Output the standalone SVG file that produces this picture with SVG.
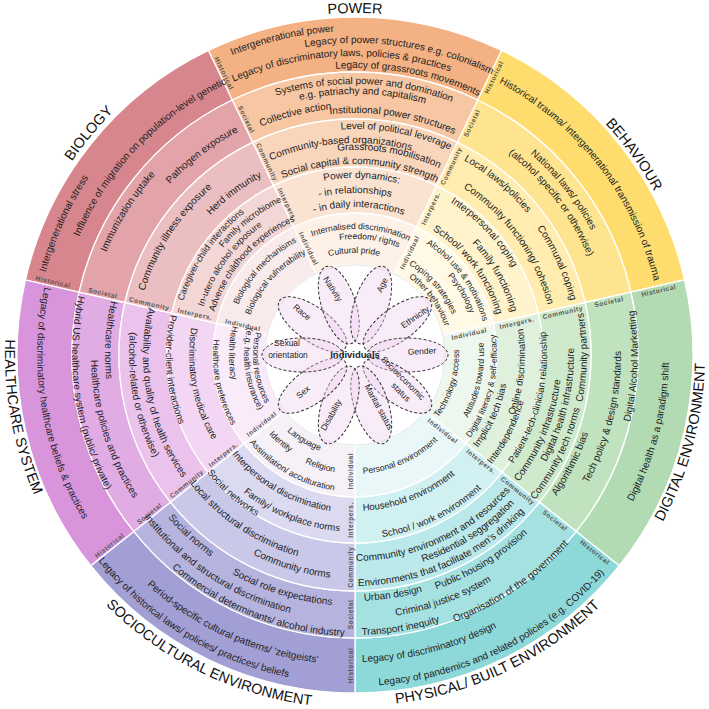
<svg xmlns="http://www.w3.org/2000/svg" xmlns:xlink="http://www.w3.org/1999/xlink" width="709" height="709" viewBox="0 0 709 709">
<style>
text{font-family:"Liberation Sans",Arial,sans-serif;fill:#222;text-anchor:middle}
.t{font-size:10px}
.s{font-size:9.5px}
.s9{font-size:9px}
.i{font-size:8.6px}
.o{font-size:14.5px;fill:#111}
.rl{font-size:6.5px;font-weight:bold;fill:#555;letter-spacing:0.6px}
.p{font-size:8.5px}
.c{font-size:9.5px;font-weight:bold}
.pet{fill:#efcfef;fill-opacity:.4;stroke:#333;stroke-width:1;stroke-dasharray:3 2}
.w{stroke:#fff;stroke-width:1.3}
</style>
<defs>
<path id="w5" class="w" d="M208.35,50.47A338,338 0 0 1 501.65,50.47L477.79,100.03A283,283 0 0 0 232.21,100.03Z"/>
<path id="w4" class="w" d="M232.21,100.03A283,283 0 0 1 477.79,100.03L457.4,142.37A236,236 0 0 0 252.6,142.37Z"/>
<path id="w3" class="w" d="M252.6,142.37A236,236 0 0 1 457.4,142.37L436.57,185.62A188,188 0 0 0 273.43,185.62Z"/>
<path id="w2" class="w" d="M273.43,185.62A188,188 0 0 1 436.57,185.62L416.61,227.06A142,142 0 0 0 293.39,227.06Z"/>
<path id="w1" class="w" d="M293.39,227.06A142,142 0 0 1 416.61,227.06L394.05,273.91A90,90 0 0 0 315.95,273.91Z"/>
<path id="u94" d="M261,355A94,94 0 0 1 449,355"/>
<path id="u102" d="M253,355A102,102 0 0 1 457,355"/>
<path id="u105" d="M250,355A105,105 0 0 1 460,355"/>
<path id="u112" d="M243,355A112,112 0 0 1 467,355"/>
<path id="u116" d="M239,355A116,116 0 0 1 471,355"/>
<path id="u122" d="M233,355A122,122 0 0 1 477,355"/>
<path id="u126" d="M229,355A126,126 0 0 1 481,355"/>
<path id="u127" d="M228,355A127,127 0 0 1 482,355"/>
<path id="u132" d="M223,355A132,132 0 0 1 487,355"/>
<path id="u147" d="M208,355A147,147 0 0 1 502,355"/>
<path id="u148" d="M207,355A148,148 0 0 1 503,355"/>
<path id="u159" d="M196,355A159,159 0 0 1 514,355"/>
<path id="u162" d="M193,355A162,162 0 0 1 517,355"/>
<path id="u170" d="M185,355A170,170 0 0 1 525,355"/>
<path id="u177" d="M178,355A177,177 0 0 1 532,355"/>
<path id="u180" d="M175,355A180,180 0 0 1 535,355"/>
<path id="u191" d="M164,355A191,191 0 0 1 546,355"/>
<path id="u199" d="M156,355A199,199 0 0 1 554,355"/>
<path id="u201" d="M154,355A201,201 0 0 1 556,355"/>
<path id="u205" d="M150,355A205,205 0 0 1 560,355"/>
<path id="u212" d="M143,355A212,212 0 0 1 567,355"/>
<path id="u220" d="M135,355A220,220 0 0 1 575,355"/>
<path id="u222" d="M133,355A222,222 0 0 1 577,355"/>
<path id="u223" d="M132,355A223,223 0 0 1 578,355"/>
<path id="u226" d="M129,355A226,226 0 0 1 581,355"/>
<path id="u242" d="M113,355A242,242 0 0 1 597,355"/>
<path id="u247" d="M108,355A247,247 0 0 1 602,355"/>
<path id="u252" d="M103,355A252,252 0 0 1 607,355"/>
<path id="u253" d="M102,355A253,253 0 0 1 608,355"/>
<path id="u261" d="M94,355A261,261 0 0 1 616,355"/>
<path id="u267" d="M88,355A267,267 0 0 1 622,355"/>
<path id="u269" d="M86,355A269,269 0 0 1 624,355"/>
<path id="u271" d="M84,355A271,271 0 0 1 626,355"/>
<path id="u287" d="M68,355A287,287 0 0 1 642,355"/>
<path id="u299" d="M56,355A299,299 0 0 1 654,355"/>
<path id="u300" d="M55,355A300,300 0 0 1 655,355"/>
<path id="u308" d="M47,355A308,308 0 0 1 663,355"/>
<path id="u312" d="M43,355A312,312 0 0 1 667,355"/>
<path id="u320" d="M35,355A320,320 0 0 1 675,355"/>
<path id="u324" d="M31,355A324,324 0 0 1 679,355"/>
<path id="u341" d="M14,355A341,341 0 0 1 696,355"/>
<path id="u342" d="M13,355A342,342 0 0 1 697,355"/>
<path id="u343" d="M12,355A343,343 0 0 1 698,355"/>
<path id="d102" d="M253,355A102,102 0 0 0 457,355"/>
<path id="d104" d="M251,355A104,104 0 0 0 459,355"/>
<path id="d111" d="M244,355A111,111 0 0 0 466,355"/>
<path id="d117" d="M238,355A117,117 0 0 0 472,355"/>
<path id="d119" d="M236,355A119,119 0 0 0 474,355"/>
<path id="d126" d="M229,355A126,126 0 0 0 481,355"/>
<path id="d129" d="M226,355A129,129 0 0 0 484,355"/>
<path id="d137" d="M218,355A137,137 0 0 0 492,355"/>
<path id="d142" d="M213,355A142,142 0 0 0 497,355"/>
<path id="d152" d="M203,355A152,152 0 0 0 507,355"/>
<path id="d154" d="M201,355A154,154 0 0 0 509,355"/>
<path id="d156" d="M199,355A156,156 0 0 0 511,355"/>
<path id="d158" d="M197,355A158,158 0 0 0 513,355"/>
<path id="d166" d="M189,355A166,166 0 0 0 521,355"/>
<path id="d170" d="M185,355A170,170 0 0 0 525,355"/>
<path id="d175" d="M180,355A175,175 0 0 0 530,355"/>
<path id="d177" d="M178,355A177,177 0 0 0 532,355"/>
<path id="d184" d="M171,355A184,184 0 0 0 539,355"/>
<path id="d189" d="M166,355A189,189 0 0 0 544,355"/>
<path id="d192" d="M163,355A192,192 0 0 0 547,355"/>
<path id="d206" d="M149,355A206,206 0 0 0 561,355"/>
<path id="d207" d="M148,355A207,207 0 0 0 562,355"/>
<path id="d209" d="M146,355A209,209 0 0 0 564,355"/>
<path id="d212" d="M143,355A212,212 0 0 0 567,355"/>
<path id="d218" d="M137,355A218,218 0 0 0 573,355"/>
<path id="d219" d="M136,355A219,219 0 0 0 574,355"/>
<path id="d224" d="M131,355A224,224 0 0 0 579,355"/>
<path id="d226" d="M129,355A226,226 0 0 0 581,355"/>
<path id="d231" d="M124,355A231,231 0 0 0 586,355"/>
<path id="d232" d="M123,355A232,232 0 0 0 587,355"/>
<path id="d246" d="M109,355A246,246 0 0 0 601,355"/>
<path id="d248" d="M107,355A248,248 0 0 0 603,355"/>
<path id="d250" d="M105,355A250,250 0 0 0 605,355"/>
<path id="d251" d="M104,355A251,251 0 0 0 606,355"/>
<path id="d264" d="M91,355A264,264 0 0 0 619,355"/>
<path id="d266" d="M89,355A266,266 0 0 0 621,355"/>
<path id="d280" d="M75,355A280,280 0 0 0 635,355"/>
<path id="d281" d="M74,355A281,281 0 0 0 636,355"/>
<path id="d283" d="M72,355A283,283 0 0 0 638,355"/>
<path id="d285" d="M70,355A285,285 0 0 0 640,355"/>
<path id="d307" d="M48,355A307,307 0 0 0 662,355"/>
<path id="d310" d="M45,355A310,310 0 0 0 665,355"/>
<path id="d314" d="M41,355A314,314 0 0 0 669,355"/>
<path id="d318" d="M37,355A318,318 0 0 0 673,355"/>
<path id="d329" d="M26,355A329,329 0 0 0 684,355"/>
<path id="d331" d="M24,355A331,331 0 0 0 686,355"/>
<path id="d350" d="M5,355A350,350 0 0 0 705,355"/>
<path id="d351" d="M4,355A351,351 0 0 0 706,355"/>
<path id="d353" d="M2,355A353,353 0 0 0 708,355"/>
</defs>
<rect width="709" height="709" fill="#fff"/>

<g id="rings">
<g id="power-rings">
<use href="#w5" fill="#F4B183"/><use href="#w4" fill="#F7C6A2"/><use href="#w3" fill="#F9D5BC"/><use href="#w2" fill="#FBE3D2"/><use href="#w1" fill="#FDF1E8"/>
</g>
<g id="behaviour-rings" transform="rotate(51.43 355 355)">
<use href="#w5" fill="#FFDC6E"/><use href="#w4" fill="#FFE48F"/><use href="#w3" fill="#FFECAE"/><use href="#w2" fill="#FFF3CC"/><use href="#w1" fill="#FFF9E6"/>
</g>
<g id="digital-rings" transform="rotate(102.86 355 355)">
<use href="#w5" fill="#B3DBB3"/><use href="#w4" fill="#C0E2BE"/><use href="#w3" fill="#CFE9CC"/><use href="#w2" fill="#DFF0DD"/><use href="#w1" fill="#EEF7ED"/>
</g>
<g id="physical-rings" transform="rotate(154.29 355 355)">
<use href="#w5" fill="#8DD8D9"/><use href="#w4" fill="#A6E1E2"/><use href="#w3" fill="#BBE8EA"/><use href="#w2" fill="#D1F0F2"/><use href="#w1" fill="#E9F7F8"/>
</g>
<g id="sociocultural-rings" transform="rotate(205.71 355 355)">
<use href="#w5" fill="#A29FD5"/><use href="#w4" fill="#B6B4DF"/><use href="#w3" fill="#C9C8E9"/><use href="#w2" fill="#DBDAF1"/><use href="#w1" fill="#F6F0F7"/>
</g>
<g id="healthcare-rings" transform="rotate(257.14 355 355)">
<use href="#w5" fill="#D895DC"/><use href="#w4" fill="#E1ACE4"/><use href="#w3" fill="#EAC2EC"/><use href="#w2" fill="#F2D6F3"/><use href="#w1" fill="#F9EBF9"/>
</g>
<g id="biology-rings" transform="rotate(308.57 355 355)">
<use href="#w5" fill="#D8868D"/><use href="#w4" fill="#E2A4A9"/><use href="#w3" fill="#EBBFC1"/><use href="#w2" fill="#F3D7D7"/><use href="#w1" fill="#F9EBEB"/>
</g>
<circle cx="355" cy="355" r="90" fill="#fff" stroke="#e6e6e6" stroke-width="1"/>
</g>

<g id="ring-labels">
<g transform="rotate(334.29 355 355)">
<text class="rl" transform="translate(357,44.5) rotate(90)">Historical</text>
<text class="rl" transform="translate(357,95.5) rotate(90)">Societal</text>
<text class="rl" transform="translate(357,143) rotate(90)">Community</text>
<text class="rl" transform="translate(357,190) rotate(90)">Interpers.</text>
<text class="rl" transform="translate(357,239) rotate(90)">Individual</text>
</g>
<g transform="rotate(25.71 355 355)">
<text class="rl" transform="translate(362,44.5) rotate(-90)">Historical</text>
<text class="rl" transform="translate(362,95.5) rotate(-90)">Societal</text>
<text class="rl" transform="translate(362,143) rotate(-90)">Community</text>
<text class="rl" transform="translate(362,190) rotate(-90)">Interpers.</text>
<text class="rl" transform="translate(362,239) rotate(-90)">Individual</text>
</g>
<g transform="rotate(77.14 355 355)">
<text class="rl" transform="translate(362,44.5) rotate(-90)">Historical</text>
<text class="rl" transform="translate(362,95.5) rotate(-90)">Societal</text>
<text class="rl" transform="translate(362,143) rotate(-90)">Community</text>
<text class="rl" transform="translate(362,190) rotate(-90)">Intergers.</text>
<text class="rl" transform="translate(362,239) rotate(-90)">Individual</text>
</g>
<g transform="rotate(128.57 355 355)">
<text class="rl" transform="translate(362,44.5) rotate(-90)">Historical</text>
<text class="rl" transform="translate(362,95.5) rotate(-90)">Societal</text>
<text class="rl" transform="translate(362,143) rotate(-90)">Community</text>
<text class="rl" transform="translate(362,190) rotate(-90)">Interpers.</text>
<text class="rl" transform="translate(362,239) rotate(-90)">Individual</text>
</g>
<g transform="rotate(180 355 355)">
<text class="rl" transform="translate(357,44.5) rotate(90)">Historical</text>
<text class="rl" transform="translate(357,95.5) rotate(90)">Societal</text>
<text class="rl" transform="translate(357,143) rotate(90)">Community</text>
<text class="rl" transform="translate(357,190) rotate(90)">Interpers.</text>
<text class="rl" transform="translate(357,239) rotate(90)">Individual</text>
</g>
<g transform="rotate(231.43 355 355)">
<text class="rl" transform="translate(357,44.5) rotate(90)">Historical</text>
<text class="rl" transform="translate(357,95.5) rotate(90)">Societal</text>
<text class="rl" transform="translate(357,143) rotate(90)">Community</text>
<text class="rl" transform="translate(357,190) rotate(90)">Interpers.</text>
<text class="rl" transform="translate(357,239) rotate(90)">Individual</text>
</g>
<g transform="rotate(282.86 355 355)">
<text class="rl" transform="translate(357,44.5) rotate(90)">Historical</text>
<text class="rl" transform="translate(357,95.5) rotate(90)">Societal</text>
<text class="rl" transform="translate(357,143) rotate(90)">Community</text>
<text class="rl" transform="translate(357,190) rotate(90)">Interpers.</text>
<text class="rl" transform="translate(357,239) rotate(90)">Individual</text>
</g>
</g>

<g id="power">
<text class="o" transform="rotate(0 355 355)"><textPath href="#u342" startOffset="50%">POWER</textPath></text>
<text class="t" transform="rotate(-13 355 355)"><textPath href="#u324" startOffset="50%">Intergenerational power</textPath></text>
<text class="t" transform="rotate(8.4 355 355)"><textPath href="#u312" startOffset="50%">Legacy of power structures e.g. colonialism</textPath></text>
<text class="t" transform="rotate(-2.7 355 355)"><textPath href="#u299" startOffset="50%">Legacy of discriminatory laws, policies &amp; practices</textPath></text>
<text class="t" transform="rotate(10.8 355 355)"><textPath href="#u287" startOffset="50%">Legacy of grassroots movements</textPath></text>
<text class="t" transform="rotate(2 355 355)"><textPath href="#u271" startOffset="50%">Systems of social power and domination</textPath></text>
<text class="t" transform="rotate(1.7 355 355)"><textPath href="#u261" startOffset="50%">e.g. patriachy and capitalism</textPath></text>
<text class="t" transform="rotate(-13.9 355 355)"><textPath href="#u247" startOffset="50%">Collective action</textPath></text>
<text class="t" transform="rotate(9.1 355 355)"><textPath href="#u242" startOffset="50%">Institutional power structures</textPath></text>
<text class="t" transform="rotate(10.6 355 355)"><textPath href="#u226" startOffset="50%">Level of political leverage</textPath></text>
<text class="t" transform="rotate(-4 355 355)"><textPath href="#u212" startOffset="50%">Community-based organizations</textPath></text>
<text class="t" transform="rotate(9.7 355 355)"><textPath href="#u205" startOffset="50%">Grassroots mobilisation</textPath></text>
<text class="t" transform="rotate(1.5 355 355)"><textPath href="#u191" startOffset="50%">Social capital &amp; community strength</textPath></text>
<text class="t" transform="rotate(2.2 355 355)"><textPath href="#u177" startOffset="50%">Power dynamics:</textPath></text>
<text class="t" transform="rotate(0 355 355)"><textPath href="#u162" startOffset="50%">- in relationships</textPath></text>
<text class="t" transform="rotate(1.5 355 355)"><textPath href="#u148" startOffset="50%">- in daily interactions</textPath></text>
<text class="i" transform="rotate(2.7 355 355)"><textPath href="#u126" startOffset="50%">Internalised discrimination</textPath></text>
<text class="i" transform="rotate(7.2 355 355)"><textPath href="#u116" startOffset="50%">Freedom/ rights</textPath></text>
<text class="i" transform="rotate(-0.5 355 355)"><textPath href="#u102" startOffset="50%">Cultural pride</textPath></text>
</g>

<g id="behaviour">
<text class="o" transform="rotate(54.3 355 355)"><textPath href="#u341" startOffset="50%">BEHAVIOUR</textPath></text>
<text class="t" transform="rotate(52 355 355)"><textPath href="#u308" startOffset="50%">Historical trauma/ intergenerational transmission of trauma</textPath></text>
<text class="t" transform="rotate(51.6 355 355)"><textPath href="#u267" startOffset="50%">National laws/ policies</textPath></text>
<text class="t" transform="rotate(52.2 355 355)"><textPath href="#u253" startOffset="50%">(alcohol specific or otherwise)</textPath></text>
<text class="t" transform="rotate(39.8 355 355)"><textPath href="#u223" startOffset="50%">Local laws/policies</textPath></text>
<text class="t" transform="rotate(65.5 355 355)"><textPath href="#u222" startOffset="50%">Communal coping</textPath></text>
<text class="t" transform="rotate(54.2 355 355)"><textPath href="#u199" startOffset="50%">Community functioning/ cohesion</textPath></text>
<text class="t" transform="rotate(46.5 355 355)"><textPath href="#u180" startOffset="50%">Interpersonal coping</textPath></text>
<text class="t" transform="rotate(60.5 355 355)"><textPath href="#u162" startOffset="50%">Family functioning</textPath></text>
<text class="t" transform="rotate(53 355 355)"><textPath href="#u147" startOffset="50%">School/ work functioning</textPath></text>
<text class="i" transform="rotate(54 355 355)"><textPath href="#u132" startOffset="50%">Alcohol use &amp; motivations</textPath></text>
<text class="i" transform="rotate(59.8 355 355)"><textPath href="#u122" startOffset="50%">Psychology</textPath></text>
<text class="i" transform="rotate(49 355 355)"><textPath href="#u105" startOffset="50%">Coping strategies</textPath></text>
<text class="i" transform="rotate(53.6 355 355)"><textPath href="#u94" startOffset="50%">Other behaviour</textPath></text>
</g>

<g id="digital-environment">
<text class="o" transform="rotate(-75.1 355 355)"><textPath href="#d350" startOffset="50%">DIGITAL ENVIRONMENT</textPath></text>
<text class="t" transform="rotate(-75.4 355 355)"><textPath href="#d314" startOffset="50%">Digital health as a paradigm shift</textPath></text>
<text class="t" transform="rotate(-87.7 355 355)"><textPath href="#d283" startOffset="50%">Digital Alcohol Marketting</textPath></text>
<text class="t" transform="rotate(-76 355 355)"><textPath href="#d266" startOffset="50%">Tech policy &amp; design standards</textPath></text>
<text class="t" transform="rotate(-63.2 355 355)"><textPath href="#d246" startOffset="50%">Algorithmic bias</textPath></text>
<text class="t" transform="rotate(-89.4 355 355)"><textPath href="#d232" startOffset="50%">Community partners</textPath></text>
<text class="t" transform="rotate(-63.9 355 355)"><textPath href="#d231" startOffset="50%">Community tech norms</textPath></text>
<text class="t" transform="rotate(-76.3 355 355)"><textPath href="#d219" startOffset="50%">Digital health infrastructure</textPath></text>
<text class="t" transform="rotate(-67.7 355 355)"><textPath href="#d207" startOffset="50%">Community infrastructure</textPath></text>
<text class="s" transform="rotate(-76.3 355 355)"><textPath href="#d192" startOffset="50%">Patient-tech-clinician relationship</textPath></text>
<text class="s" transform="rotate(-63 355 355)"><textPath href="#d175" startOffset="50%">Interdependence</textPath></text>
<text class="s" transform="rotate(-84.1 355 355)"><textPath href="#d170" startOffset="50%">Online discrimination</textPath></text>
<text class="s" transform="rotate(-66 355 355)"><textPath href="#d154" startOffset="50%">Implicit tech bias</textPath></text>
<text class="i" transform="rotate(-76.3 355 355)"><textPath href="#d142" startOffset="50%">Digital literacy &amp; self-efficacy</textPath></text>
<text class="i" transform="rotate(-78.2 355 355)"><textPath href="#d129" startOffset="50%">Attitudes toward use</textPath></text>
<text class="i" transform="rotate(-73 355 355)"><textPath href="#d104" startOffset="50%">Technology access</textPath></text>
</g>

<g id="physical-built-environment">
<text class="o" transform="rotate(-25.5 355 355)"><textPath href="#d351" startOffset="50%">PHYSICAL/ BUILT ENVIRONMENT</textPath></text>
<text class="t" transform="rotate(-26.5 355 355)"><textPath href="#d331" startOffset="50%">Legacy of pandemics and related policies (e.g. COVID-19)</textPath></text>
<text class="t" transform="rotate(-14.4 355 355)"><textPath href="#d307" startOffset="50%">Legacy of discriminatory design</textPath></text>
<text class="t" transform="rotate(-34.5 355 355)"><textPath href="#d285" startOffset="50%">Organisation of the government</textPath></text>
<text class="t" transform="rotate(-9.5 355 355)"><textPath href="#d280" startOffset="50%">Transport inequity</textPath></text>
<text class="t" transform="rotate(-20 355 355)"><textPath href="#d264" startOffset="50%">Criminal justice system</textPath></text>
<text class="t" transform="rotate(-31.6 355 355)"><textPath href="#d248" startOffset="50%">Public housing provision</textPath></text>
<text class="t" transform="rotate(-9 355 355)"><textPath href="#d246" startOffset="50%">Urban design</textPath></text>
<text class="t" transform="rotate(-24 355 355)"><textPath href="#d231" startOffset="50%">Environments that facilitate men’s drinking</textPath></text>
<text class="t" transform="rotate(-32.6 355 355)"><textPath href="#d218" startOffset="50%">Residential seggregation</textPath></text>
<text class="t" transform="rotate(-24.6 355 355)"><textPath href="#d206" startOffset="50%">Community environment and resources</textPath></text>
<text class="s" transform="rotate(-26 355 355)"><textPath href="#d184" startOffset="50%">School / work environment</textPath></text>
<text class="s" transform="rotate(-21.4 355 355)"><textPath href="#d156" startOffset="50%">Household environment</textPath></text>
<text class="i" transform="rotate(-24 355 355)"><textPath href="#d119" startOffset="50%">Personal environment</textPath></text>
</g>

<g id="sociocultural-environment">
<text class="o" transform="rotate(26 355 355)"><textPath href="#d353" startOffset="50%">SOCIOCULTURAL ENVIRONMENT</textPath></text>
<text class="t" transform="rotate(31.5 355 355)"><textPath href="#d329" startOffset="50%">Legacy of historical laws/ policies/ practices/ beliefs</textPath></text>
<text class="t" transform="rotate(24.5 355 355)"><textPath href="#d310" startOffset="50%">Period-specific cultural patterns/ 'zeitgeists'</textPath></text>
<text class="t" transform="rotate(21.4 355 355)"><textPath href="#d281" startOffset="50%">Commercial determinants/ alcohol industry</textPath></text>
<text class="t" transform="rotate(33.3 355 355)"><textPath href="#d266" startOffset="50%">Institutional and structural discrimination</textPath></text>
<text class="t" transform="rotate(17.3 355 355)"><textPath href="#d251" startOffset="50%">Social role expectations</textPath></text>
<text class="t" transform="rotate(42.3 355 355)"><textPath href="#d248" startOffset="50%">Social norms</textPath></text>
<text class="t" transform="rotate(16.7 355 355)"><textPath href="#d224" startOffset="50%">Community norms</textPath></text>
<text class="t" transform="rotate(34 355 355)"><textPath href="#d209" startOffset="50%">Local structural discrimination</textPath></text>
<text class="s" transform="rotate(41.5 355 355)"><textPath href="#d189" startOffset="50%">Social networks</textPath></text>
<text class="s" transform="rotate(22 355 355)"><textPath href="#d177" startOffset="50%">Family/ workplace norms</textPath></text>
<text class="s" transform="rotate(30 355 355)"><textPath href="#d158" startOffset="50%">Interpersonal discrimination</textPath></text>
<text class="i" transform="rotate(29.5 355 355)"><textPath href="#d137" startOffset="50%">Assimilation/ acculturation</textPath></text>
<text class="i" transform="rotate(40.6 355 355)"><textPath href="#d117" startOffset="50%">Identity</textPath></text>
<text class="i" transform="rotate(17.4 355 355)"><textPath href="#d119" startOffset="50%">Religion</textPath></text>
<text class="i" transform="rotate(31 355 355)"><textPath href="#d102" startOffset="50%">Language</textPath></text>
</g>

<g id="healthcare-system">
<text class="o" transform="rotate(79.5 355 355)"><textPath href="#d350" startOffset="50%">HEALTHCARE SYSTEM</textPath></text>
<text class="t" transform="rotate(80.6 355 355)"><textPath href="#d318" startOffset="50%">Legacy of discriminatory healthcare beliefs &amp; practices</textPath></text>
<text class="t" transform="rotate(81.8 355 355)"><textPath href="#d283" startOffset="50%">Hybrid US healthcare system (public/ private)</textPath></text>
<text class="t" transform="rotate(73 355 355)"><textPath href="#d264" startOffset="50%">Healthcare  policies and practices</textPath></text>
<text class="t" transform="rotate(93.5 355 355)"><textPath href="#d250" startOffset="50%">Healthcare norms</textPath></text>
<text class="t" transform="rotate(79.4 355 355)"><textPath href="#d226" startOffset="50%">(alcohol-related or otherwise)</textPath></text>
<text class="t" transform="rotate(78.8 355 355)"><textPath href="#d212" startOffset="50%">Availability and quality of health services</textPath></text>
<text class="s" transform="rotate(85.4 355 355)"><textPath href="#d189" startOffset="50%">Provider-client interactions</textPath></text>
<text class="s" transform="rotate(79.4 355 355)"><textPath href="#d166" startOffset="50%">Discriminatory medical care</textPath></text>
<text class="i" transform="rotate(78.3 355 355)"><textPath href="#d142" startOffset="50%">Healthcare preferences</textPath></text>
<text class="i" transform="rotate(91 355 355)"><textPath href="#d126" startOffset="50%">Health literacy</textPath></text>
<text class="i" transform="rotate(82.2 355 355)"><textPath href="#d111" startOffset="50%">(e.g. health insurance)</textPath></text>
<text class="i" transform="rotate(82.4 355 355)"><textPath href="#d102" startOffset="50%">Personal resources</textPath></text>
</g>

<g id="biology">
<text class="o" transform="rotate(-50.2 355 355)"><textPath href="#u343" startOffset="50%">BIOLOGY</textPath></text>
<text class="t" transform="rotate(-65.7 355 355)"><textPath href="#u320" startOffset="50%">Intergenerational stress</textPath></text>
<text class="t" transform="rotate(-46 355 355)"><textPath href="#u300" startOffset="50%">Influence of migration on population-level genetic</textPath></text>
<text class="t" transform="rotate(-57.7 355 355)"><textPath href="#u269" startOffset="50%">Immunization uptake</textPath></text>
<text class="t" transform="rotate(-37.4 355 355)"><textPath href="#u252" startOffset="50%">Pathogen exposure</textPath></text>
<text class="t" transform="rotate(-56.8 355 355)"><textPath href="#u220" startOffset="50%">Community illness exposure</textPath></text>
<text class="t" transform="rotate(-36.8 355 355)"><textPath href="#u201" startOffset="50%">Herd immunity</textPath></text>
<text class="s9" transform="rotate(-55.2 355 355)"><textPath href="#u180" startOffset="50%">Caregiver-child interactions</textPath></text>
<text class="s9" transform="rotate(-38.2 355 355)"><textPath href="#u170" startOffset="50%">Family microbiome</textPath></text>
<text class="s9" transform="rotate(-54 355 355)"><textPath href="#u159" startOffset="50%">In-utero alcohol exposure</textPath></text>
<text class="s9" transform="rotate(-48.5 355 355)"><textPath href="#u147" startOffset="50%">Adverse childhood experiences</textPath></text>
<text class="i" transform="rotate(-47 355 355)"><textPath href="#u127" startOffset="50%">Biological mechanisms</textPath></text>
<text class="i" transform="rotate(-47.5 355 355)"><textPath href="#u112" startOffset="50%">Biological vulnerability</textPath></text>
</g>

<g id="individuals">
<ellipse class="pet" cx="355" cy="302.5" rx="17" ry="40.5" transform="rotate(306 355 355)"/>
<ellipse class="pet" cx="355" cy="302.5" rx="17" ry="40.5" transform="rotate(342 355 355)"/>
<ellipse class="pet" cx="355" cy="302.5" rx="17" ry="40.5" transform="rotate(18 355 355)"/>
<ellipse class="pet" cx="355" cy="302.5" rx="17" ry="40.5" transform="rotate(54 355 355)"/>
<ellipse class="pet" cx="355" cy="302.5" rx="17" ry="40.5" transform="rotate(90 355 355)"/>
<ellipse class="pet" cx="355" cy="302.5" rx="17" ry="40.5" transform="rotate(126 355 355)"/>
<ellipse class="pet" cx="355" cy="302.5" rx="17" ry="40.5" transform="rotate(162 355 355)"/>
<ellipse class="pet" cx="355" cy="302.5" rx="17" ry="40.5" transform="rotate(198 355 355)"/>
<ellipse class="pet" cx="355" cy="302.5" rx="17" ry="40.5" transform="rotate(234 355 355)"/>
<ellipse class="pet" cx="355" cy="302.5" rx="17" ry="40.5" transform="rotate(270 355 355)"/>
<text class="p" transform="translate(302,312) rotate(40)" dy="3">Race</text>
<text class="p" transform="translate(333,289) rotate(58)" dy="3">Nativity</text>
<text class="p" transform="translate(382,285) rotate(-64)" dy="3">Age</text>
<text class="p" transform="translate(415,317) rotate(-35)" dy="3">Ethnicity</text>
<text class="p" transform="translate(422,351) rotate(-3)" dy="3">Gender</text>
<text class="p" transform="translate(403,378) rotate(45)" dy="3">Socioeconomic</text>
<text class="p" transform="translate(401,392) rotate(45)" dy="3">status</text>
<text class="p" transform="translate(379,407) rotate(61)" dy="3">Marital status</text>
<text class="p" transform="translate(331,415) rotate(-61)" dy="3">Disability</text>
<text class="p" transform="translate(303,392) rotate(-40)" dy="3">Sex</text>
<text class="p" x="287" y="346">Sexual</text>
<text class="p" x="288" y="358">orientation</text>
<text class="c" x="355" y="358">Individuals</text>
</g>
</svg>
